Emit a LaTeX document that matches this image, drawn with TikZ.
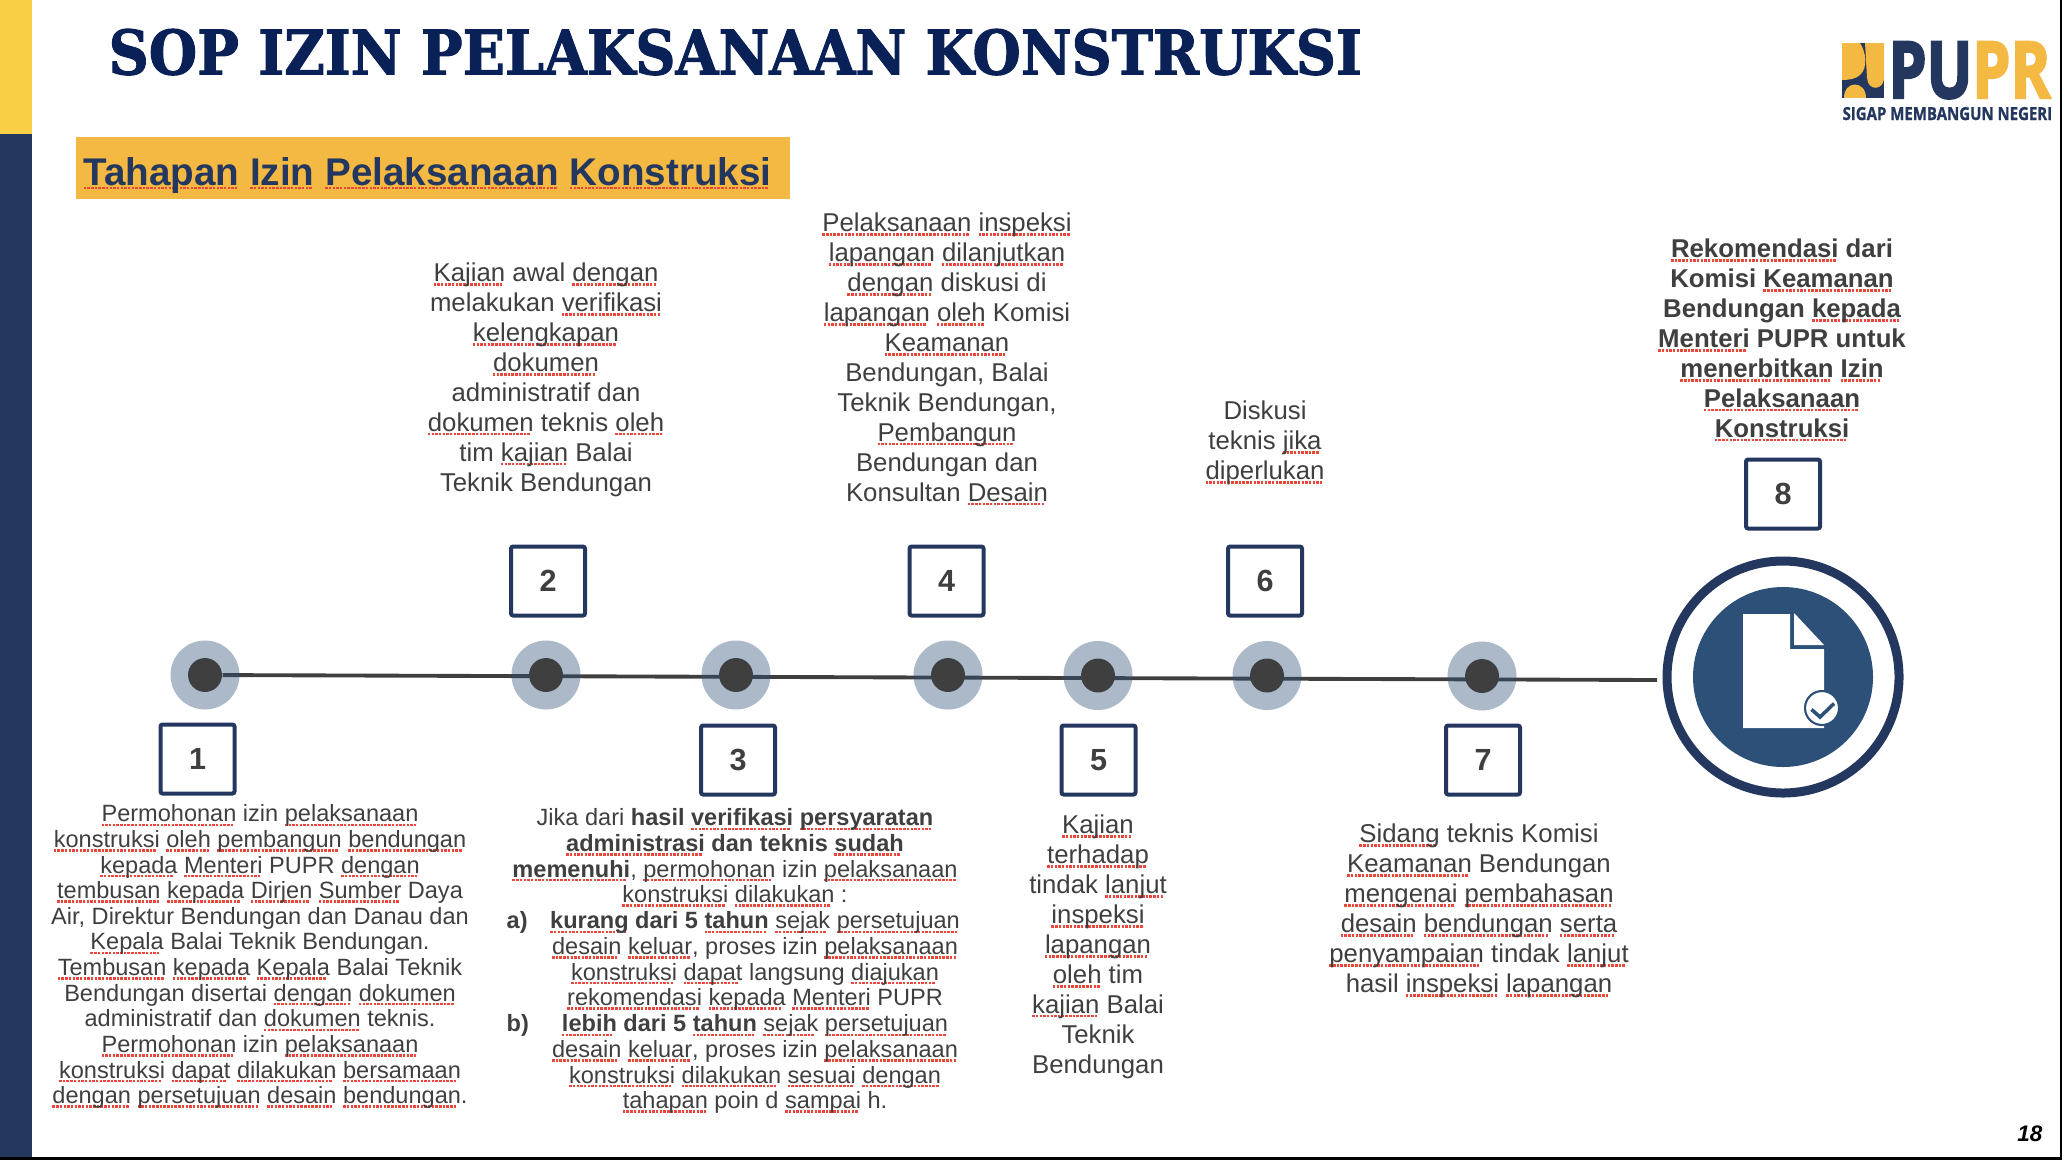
\documentclass[tikz,border=0pt]{standalone}
\usepackage{fontspec}
\usepackage{xcolor}
\setmainfont{Liberation Sans}
\newfontfamily\titlefont[FakeStretch=0.903,FakeBold=1.6]{DejaVu Serif Bold}
\newfontfamily\logofont[BoldFeatures={FakeBold=1.2}]{Open Sans}
\newfontfamily\puprfont[BoldFeatures={FakeBold=3}]{Open Sans}
\usetikzlibrary{positioning}

\definecolor{navy}{HTML}{24375F}
\definecolor{titlenavy}{HTML}{0A2158}
\definecolor{disc}{HTML}{2C5078}
\definecolor{gold}{HTML}{F3B942}
\definecolor{baryellow}{HTML}{F9CF48}
\definecolor{ink}{HTML}{3F3F3F}
\definecolor{squig}{HTML}{EB463A}

% dotted red mark under a word
\newcommand\sq[1]{\leavevmode\setbox0=\hbox{#1}\rlap{\raisebox{-1.2pt}{\hbox to \wd0{{\color{squig}\leaders\hbox to 1.05pt{\rule{0.7pt}{0.7pt}\hfil}\hfill}}}}\box0\relax}
\newcommand\smalltext{\fontsize{6.7}{7.29}\selectfont}
\newcommand\bigtext{\fontsize{7.33}{8.53}\selectfont}

\begin{document}
\begin{tikzpicture}[
  numbox/.style={rectangle, draw=navy, fill=white, line width=1.14pt, rounded corners=0.6pt,
    minimum width=0.74cm, minimum height=0.69cm, inner sep=0pt, text=ink, font=\fontsize{8.7}{10}\selectfont\bfseries},
  stopdot/.style={circle, fill=ink, minimum size=0.34cm, inner sep=0pt},
  steptext/.style={align=center, inner sep=0pt, anchor=north, text=ink},
  smallstep/.style={steptext, font=\smalltext},
  bigstep/.style={steptext, font=\bigtext},
  axisline/.style={draw=ink, line width=1.1pt}
]
  \useasboundingbox (0,0) rectangle (20.62,-11.6);

  % slide frame
  \fill[baryellow] (0,0) rectangle (0.32,-1.34);
  \fill[navy] (0,-1.34) rectangle (0.32,-11.6);
  \fill[black] (0,-11.57) rectangle (20.62,-11.6);
  \fill[black] (20.6,0) rectangle (20.62,-11.6);

  % heading
  \node[anchor=base west, inner sep=0pt, text=titlenavy, font=\titlefont\fontsize{17.5}{20}\selectfont] (title) at (1.08,-0.745)
    {SOP IZIN PELAKSANAAN KONSTRUKSI};
  \node[rectangle, fill=gold, minimum width=7.14cm, minimum height=0.62cm, inner sep=0pt] (banner) at (4.33,-1.68) {};
  \node[anchor=base west, inner sep=0pt, text=navy, font=\fontsize{10.98}{12}\selectfont\bfseries] (bannertext) at (0.83,-1.85)
    {\sq{Tahapan} \sq{Izin} \sq{Pelaksanaan} \sq{Konstruksi}};

  % logo
  \fill[navy] (18.42,-0.43) rectangle (18.84,-0.98);
  \fill[gold] (18.42,-0.43) -- (18.60,-0.43) .. controls (18.66,-0.52) and (18.68,-0.68) .. (18.60,-0.75) .. controls (18.56,-0.79) and (18.48,-0.80) .. (18.42,-0.80) -- cycle;
  \fill[gold] (18.65,-0.43) -- (18.84,-0.43) -- (18.84,-0.78) .. controls (18.84,-0.90) and (18.68,-0.92) .. (18.67,-0.78) -- cycle;
  \fill[gold] (18.44,-0.98) .. controls (18.44,-0.80) and (18.66,-0.80) .. (18.66,-0.98) -- cycle;
  \node[anchor=base west, inner sep=0pt, xscale=0.77, font=\puprfont\bfseries\fontsize{22.4}{24}\selectfont] (pupr) at (18.88,-0.98)
    {\textcolor{navy}{PU}\textcolor{gold}{PR}};
  \node[anchor=base west, inner sep=0pt, xscale=0.836, text=navy, font=\logofont\bfseries\fontsize{5.1}{6}\selectfont] (motto) at (18.42,-1.20)
    {SIGAP MEMBANGUN NEGERI};

  % stops on the line
  \node[stopdot] (s1) at (2.05,-6.75) {};
  \node[stopdot] (s2) at (5.46,-6.75) {};
  \node[stopdot] (s3) at (7.36,-6.75) {};
  \node[stopdot] (s4) at (9.48,-6.75) {};
  \node[stopdot] (s5) at (10.98,-6.755) {};
  \node[stopdot] (s6) at (12.67,-6.755) {};
  \node[stopdot] (s7) at (14.82,-6.76) {};
  \coordinate (lineend) at (16.57,-6.80);

  \draw[axisline] (s1) -- (lineend);
  \foreach \n in {1,...,7}
    \fill[disc, opacity=0.4, even odd rule] (s\n) circle (0.345) (s\n) circle (0.168);

  % number boxes
  \node[numbox] (n1) at (1.975,-7.59) {1};
  \node[numbox] (n2) at (5.48,-5.81) {2};
  \node[numbox] (n3) at (7.38,-7.60) {3};
  \node[numbox] (n4) at (9.465,-5.81) {4};
  \node[numbox] (n5) at (10.985,-7.60) {5};
  \node[numbox] (n6) at (12.65,-5.81) {6};
  \node[numbox] (n7) at (14.83,-7.60) {7};
  \node[numbox] (n8) at (17.83,-4.94) {8};

  % final document badge
  \node[circle, draw=navy, line width=2.56pt, minimum size=2.32cm, inner sep=0pt] (ring) at (17.83,-6.77) {};
  \node[circle, fill=disc, minimum size=1.80cm, inner sep=0pt] (discfill) at (ring) {};
  \fill[white] (17.43,-6.14) -- (17.90,-6.14) -- (17.90,-6.49) -- (18.24,-6.49) -- (18.24,-7.28) -- (17.43,-7.28) -- cycle;
  \fill[white] (17.94,-6.13) -- (18.24,-6.45) -- (17.94,-6.45) -- cycle;
  \node[circle, draw=disc, fill=white, line width=0.6pt, minimum size=0.34cm, inner sep=0pt] (tick) at (18.22,-7.08) {};
  \draw[disc, line width=1pt] (18.115,-7.095) -- (18.20,-7.17) -- (18.34,-7.035);

  % step texts
  \node[smallstep] (t1) at (2.60,-8.04) {\sq{Permohonan} izin \sq{pelaksanaan}\\
    \sq{konstruksi} \sq{oleh} \sq{pembangun} \sq{bendungan}\\
    \sq{kepada} \sq{Menteri} PUPR \sq{dengan}\\
    \sq{tembusan} \sq{kepada} \sq{Dirjen} \sq{Sumber} Daya\\
    Air, Direktur Bendungan dan Danau dan\\
    \sq{Kepala} Balai Teknik Bendungan.\\
    \sq{Tembusan} \sq{kepada} \sq{Kepala} Balai Teknik\\
    Bendungan disertai \sq{dengan} \sq{dokumen}\\
    administratif dan \sq{dokumen} teknis.\\
    \sq{Permohonan} izin \sq{pelaksanaan}\\
    \sq{konstruksi} \sq{dapat} \sq{dilakukan} \sq{bersamaan}\\
    \sq{dengan} \sq{persetujuan} \sq{desain} \sq{bendungan}.};
  \node[bigstep] (t2) at (5.46,-2.62) {\sq{Kajian} awal \sq{dengan}\\
    melakukan \sq{verifikasi}\\
    \sq{kelengkapan}\\
    \sq{dokumen}\\
    administratif dan\\
    \sq{dokumen} teknis \sq{oleh}\\
    tim \sq{kajian} Balai\\
    Teknik Bendungan};
  \node[smallstep] (t3) at (7.35,-8.08) {Jika dari \textbf{hasil \sq{verifikasi} \sq{persyaratan}}\\
    \textbf{\sq{administrasi} dan teknis \sq{sudah}}\\
    \textbf{\sq{memenuhi}}, \sq{permohonan} izin \sq{pelaksanaan}\\
    \sq{konstruksi} \sq{dilakukan} :};
  \node[smallstep] (t3a) at (7.55,-9.11) {\textbf{\sq{kurang} dari 5 \sq{tahun}} \sq{sejak} \sq{persetujuan}\\
    \sq{desain} \sq{keluar}, proses izin \sq{pelaksanaan}\\
    \sq{konstruksi} \sq{dapat} langsung \sq{diajukan}\\
    \sq{rekomendasi} \sq{kepada} \sq{Menteri} PUPR};
  \node[smallstep] (t3b) at (7.55,-10.14) {\textbf{\sq{lebih} dari 5 \sq{tahun}} \sq{sejak} \sq{persetujuan}\\
    \sq{desain} \sq{keluar}, proses izin \sq{pelaksanaan}\\
    \sq{konstruksi} \sq{dilakukan} \sq{sesuai} \sq{dengan}\\
    \sq{tahapan} poin d \sq{sampai} h.};
  \node[anchor=north west, inner sep=0pt, text=ink, font=\smalltext\bfseries] (la) at (5.06,-9.11) {a)};
  \node[anchor=north west, inner sep=0pt, text=ink, font=\smalltext\bfseries] (lb) at (5.06,-10.14) {b)};
  \node[bigstep] (t4) at (9.47,-2.12) {\sq{Pelaksanaan} \sq{inspeksi}\\
    \sq{lapangan} \sq{dilanjutkan}\\
    \sq{dengan} diskusi di\\
    \sq{lapangan} \sq{oleh} Komisi\\
    \sq{Keamanan}\\
    Bendungan, Balai\\
    Teknik Bendungan,\\
    \sq{Pembangun}\\
    Bendungan dan\\
    Konsultan \sq{Desain}};
  \node[bigstep] (t5) at (10.98,-8.14) {\sq{Kajian}\\
    \sq{terhadap}\\
    tindak \sq{lanjut}\\
    \sq{inspeksi}\\
    \sq{lapangan}\\
    \sq{oleh} tim\\
    \sq{kajian} Balai\\
    Teknik\\
    Bendungan};
  \node[bigstep] (t6) at (12.65,-4.00) {Diskusi\\
    teknis \sq{jika}\\
    \sq{diperlukan}};
  \node[bigstep] (t7) at (14.79,-8.23) {\sq{Sidang} teknis Komisi\\
    \sq{Keamanan} Bendungan\\
    \sq{mengenai} \sq{pembahasan}\\
    \sq{desain} \sq{bendungan} \sq{serta}\\
    \sq{penyampaian} tindak \sq{lanjut}\\
    hasil \sq{inspeksi} \sq{lapangan}};
  \node[bigstep, font=\bigtext\bfseries] (t8) at (17.82,-2.38) {\sq{Rekomendasi} dari\\
    Komisi \sq{Keamanan}\\
    Bendungan \sq{kepada}\\
    \sq{Menteri} PUPR untuk\\
    \sq{menerbitkan} \sq{Izin}\\
    \sq{Pelaksanaan}\\
    \sq{Konstruksi}};

  % page number
  \node[anchor=base east, inner sep=0pt, font=\fontsize{6.4}{8}\selectfont\bfseries\itshape] (page) at (20.43,-11.41) {18};
\end{tikzpicture}
\end{document}
